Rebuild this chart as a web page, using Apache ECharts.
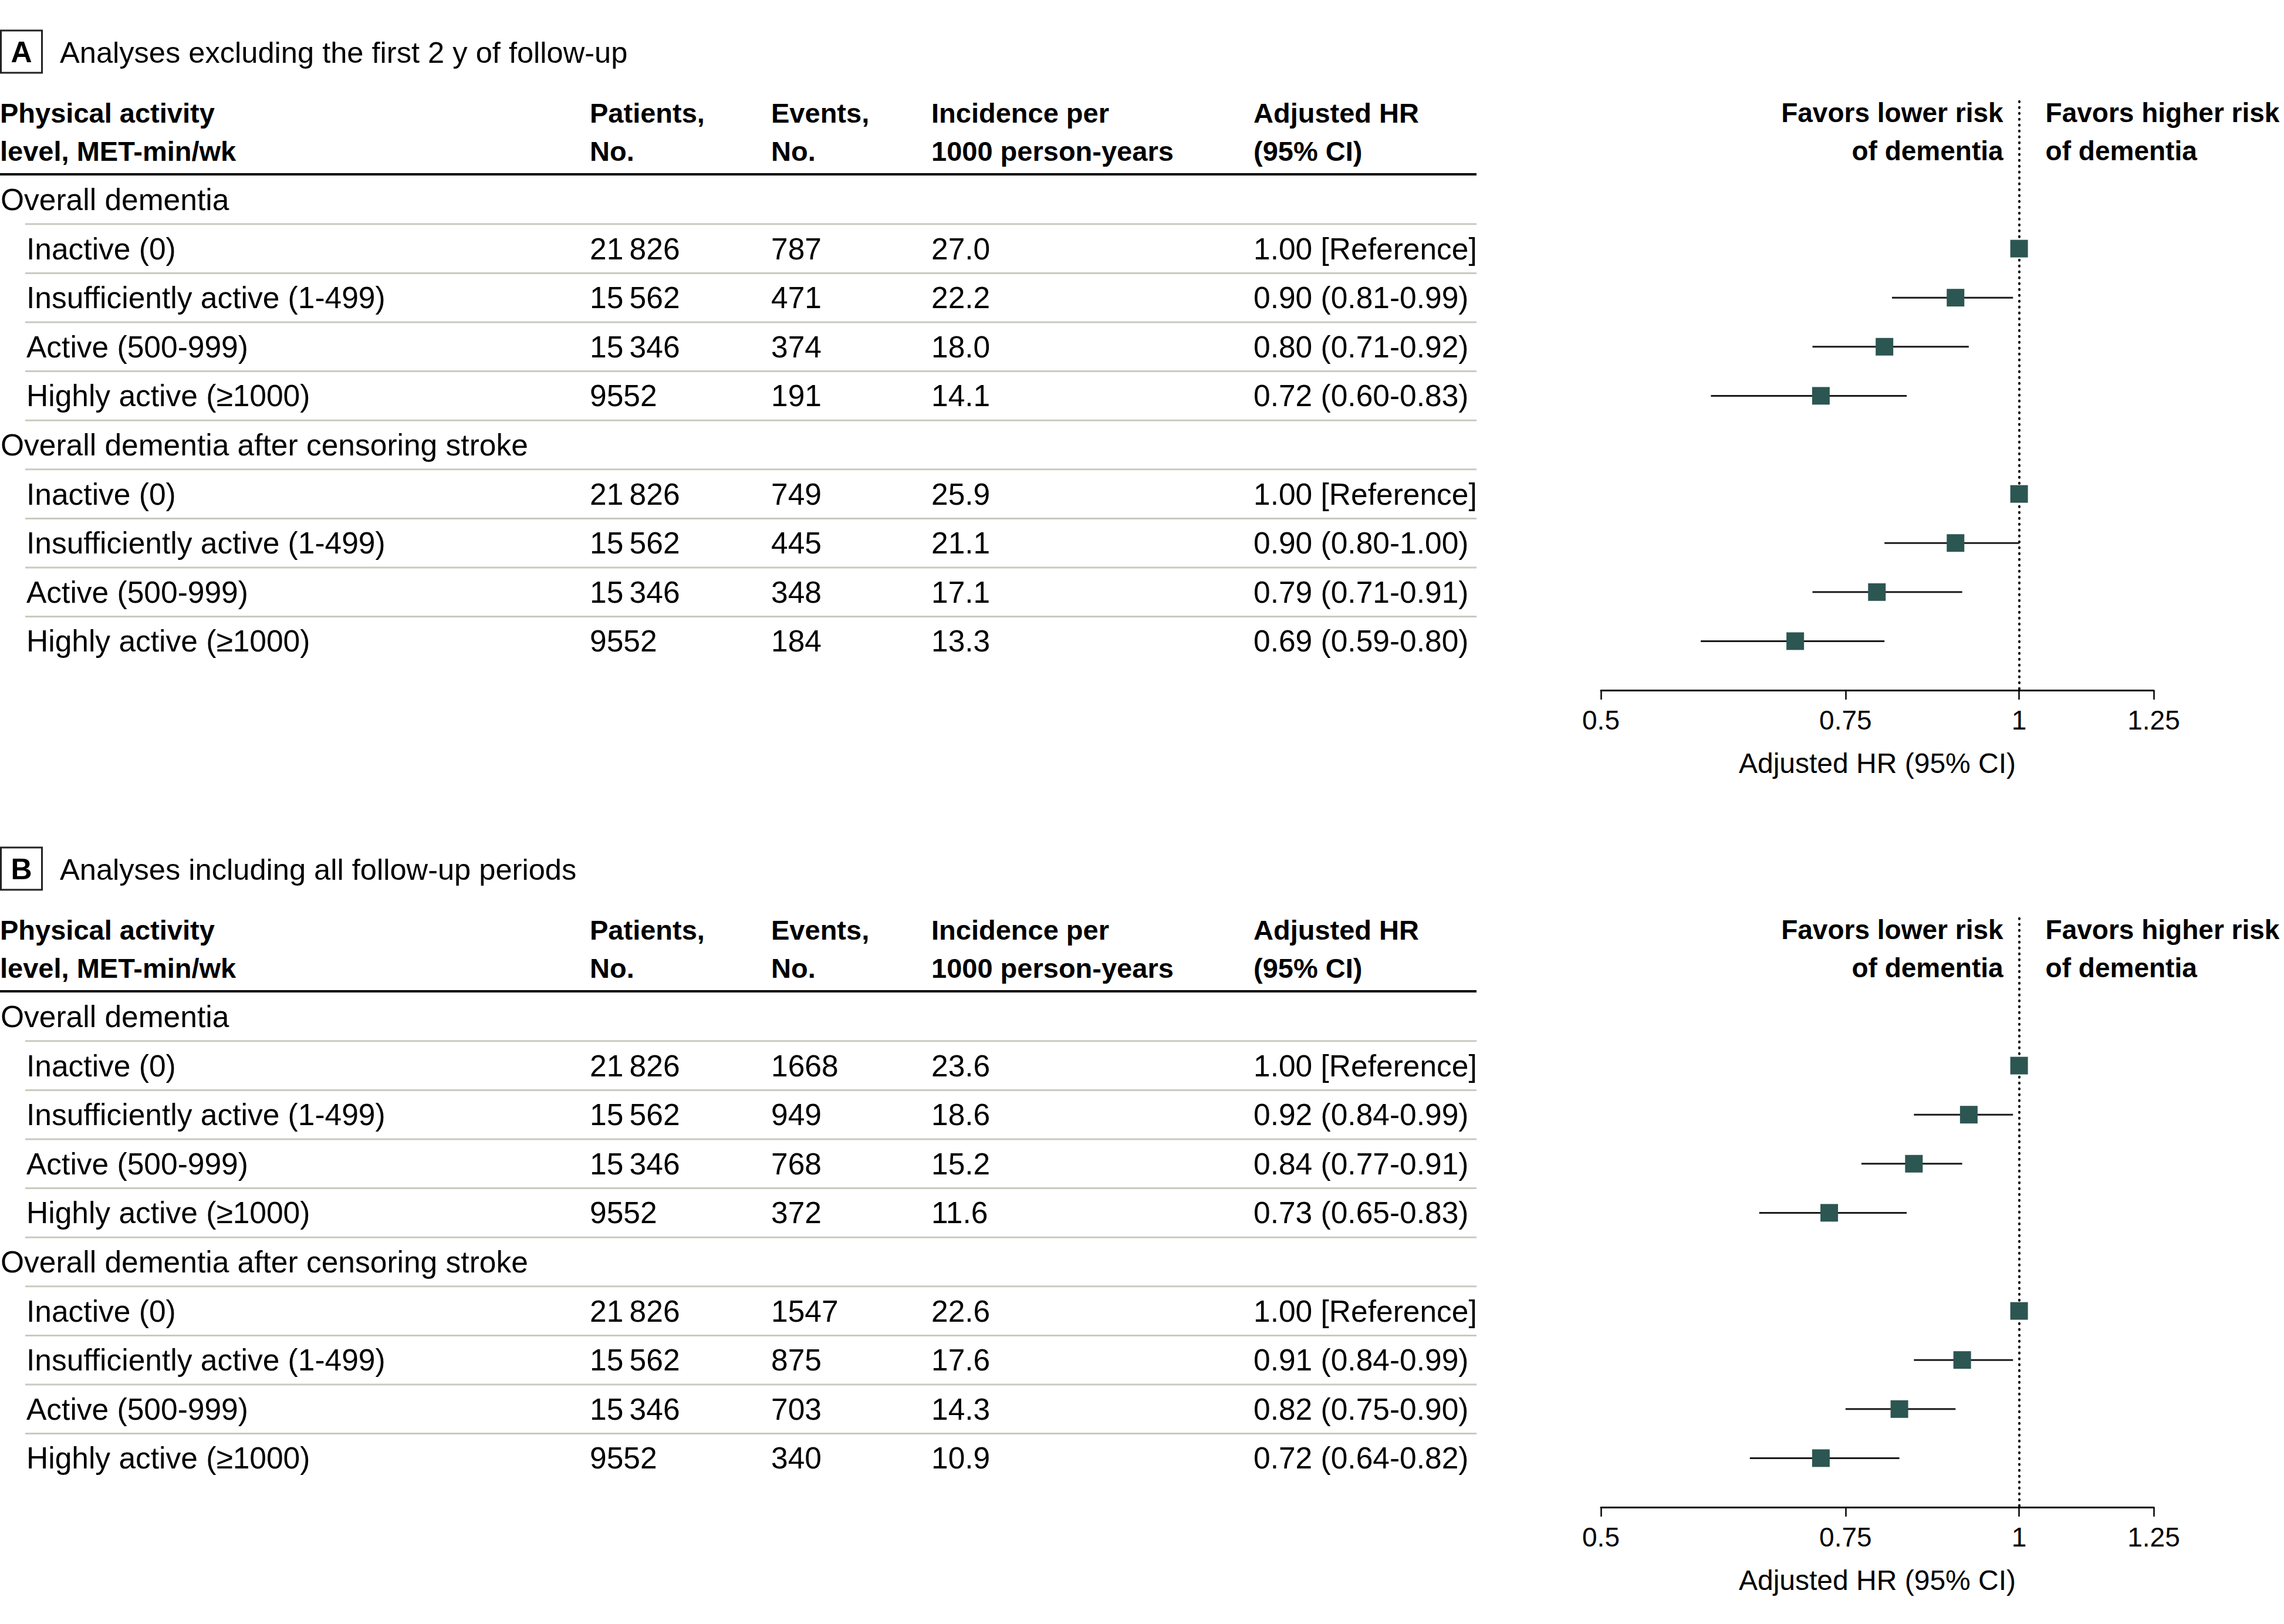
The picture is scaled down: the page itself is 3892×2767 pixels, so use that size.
<!DOCTYPE html>
<html>
<head>
<meta charset="utf-8">
<script src="https://cdn.jsdelivr.net/npm/echarts@6/dist/echarts.min.js"></script>
<style>
html,body{margin:0;padding:0;background:#fff;}
#chart{width:3892px;height:2767px;}
</style>
</head>
<body>
<div id="chart"></div>
<script>
// ---------------- DATA ----------------
const panelLetters = ['A', 'B'];
const panelTitles = ['Analyses excluding the first 2 y of follow-up', 'Analyses including all follow-up periods'];
const groupNames = ['Overall dementia', 'Overall dementia after censoring stroke'];
const levelNames = ['Inactive (0)', 'Insufficiently active (1-499)', 'Active (500-999)', 'Highly active (\u22651000)'];
const headerLines = [
  ['Physical activity', 'level, MET-min/wk'],
  ['Patients,', 'No.'],
  ['Events,', 'No.'],
  ['Incidence per', '1000 person-years'],
  ['Adjusted HR', '(95% CI)']
];
const favorsLower = ['Favors lower risk', 'of dementia'];
const favorsHigher = ['Favors higher risk', 'of dementia'];
const axisTitle = 'Adjusted HR (95% CI)';
const hrTicks = [0.5, 0.75, 1, 1.25];

// Panel A (excluding first 2 y)
const patientsA = [21826, 15562, 15346, 9552, 21826, 15562, 15346, 9552];
const eventsA = [787, 471, 374, 191, 749, 445, 348, 184];
const incidenceA = [27.0, 22.2, 18.0, 14.1, 25.9, 21.1, 17.1, 13.3];
const hrA = [1.00, 0.90, 0.80, 0.72, 1.00, 0.90, 0.79, 0.69];
const hrLowA = [null, 0.81, 0.71, 0.60, null, 0.80, 0.71, 0.59];
const hrHighA = [null, 0.99, 0.92, 0.83, null, 1.00, 0.91, 0.80];

// Panel B (all follow-up)
const patientsB = [21826, 15562, 15346, 9552, 21826, 15562, 15346, 9552];
const eventsB = [1668, 949, 768, 372, 1547, 875, 703, 340];
const incidenceB = [23.6, 18.6, 15.2, 11.6, 22.6, 17.6, 14.3, 10.9];
const hrB = [1.00, 0.92, 0.84, 0.73, 1.00, 0.91, 0.82, 0.72];
const hrLowB = [null, 0.84, 0.77, 0.65, null, 0.84, 0.75, 0.64];
const hrHighB = [null, 0.99, 0.91, 0.83, null, 0.99, 0.90, 0.82];

// ---------------- LAYOUT ----------------
const FONT = '"Liberation Sans", Arial, sans-serif';
const TXT = '#000';
const MARK = '#2c5652';
const ROW_H = 83.6;
const ROW0 = 340;
const PANEL_DY = 1392;
const GRID_LEFT = 2728, GRID_W = 942;
const COLS = [0, 1005, 1314, 1587, 2136];
const LABEL_X = 45;
const RULE_END = 2516;
const BODY = 51.5, HEAD = 47, FAV = 46;

const panels = [
  {patients: patientsA, events: eventsA, inc: incidenceA, hr: hrA, lo: hrLowA, hi: hrHighA},
  {patients: patientsB, events: eventsB, inc: incidenceB, hr: hrB, lo: hrLowB, hi: hrHighB}
];

function rowOf(k) { return k < 4 ? k + 1 : k + 2; }
function fmtInt(n) {
  const s = String(n);
  return n >= 10000 ? s.slice(0, s.length - 3) + '\u2009' + s.slice(s.length - 3) : s;
}
function fmtHR(k, P) {
  if (P.lo[k] == null) return P.hr[k].toFixed(2) + ' [Reference]';
  return P.hr[k].toFixed(2) + ' (' + P.lo[k].toFixed(2) + '-' + P.hi[k].toFixed(2) + ')';
}

function txt(x, y, text, size, weight, align) {
  return {type: 'text', x: x, y: y, silent: true,
    style: {text: text, fontSize: size, fontFamily: FONT, fontWeight: weight || 'normal',
      fill: TXT, align: align || 'left', verticalAlign: 'middle'}};
}
function hline(x1, x2, y, w, color) {
  return {type: 'line', silent: true, shape: {x1: x1, y1: y, x2: x2, y2: y},
    style: {stroke: color, lineWidth: w}};
}

const grids = [], xAxes = [], yAxes = [], series = [], graphics = [];
const xOne = GRID_LEFT + GRID_W * Math.log(1 / 0.5) / Math.log(1.25 / 0.5);

panels.forEach(function (P, p) {
  const dy = p * PANEL_DY;
  const rowY = function (r) { return ROW0 + dy + r * ROW_H; };
  grids.push({left: GRID_LEFT, width: GRID_W, top: ROW0 + dy - 2 * ROW_H, height: 12 * ROW_H, containLabel: false});
  xAxes.push({
    gridIndex: p, type: 'log', logBase: 10, min: 0.5, max: 1.25, position: 'bottom',
    name: axisTitle, nameLocation: 'middle', nameGap: 100,
    nameTextStyle: {fontSize: 48, fontFamily: FONT, color: TXT},
    axisLine: {show: true, onZero: false, lineStyle: {color: '#000', width: 3}},
    axisTick: {show: true, length: 16, lineStyle: {color: '#000', width: 2.5}, customValues: hrTicks},
    axisLabel: {show: true, fontSize: 46, fontFamily: FONT, color: TXT, margin: 28, customValues: hrTicks,
      formatter: function (v) { return String(+(+v).toFixed(2)); }},
    splitLine: {show: false}, minorTick: {show: false}, minorSplitLine: {show: false}
  });
  yAxes.push({gridIndex: p, type: 'value', inverse: true, min: -2, max: 10, show: false});

  const ciData = [], ptData = [];
  P.hr.forEach(function (v, k) {
    ptData.push([v, rowOf(k)]);
    if (P.lo[k] != null) ciData.push([P.lo[k], P.hi[k], rowOf(k)]);
  });
  series.push({
    type: 'custom', xAxisIndex: p, yAxisIndex: p, silent: true, z: 2,
    encode: {x: [0, 1], y: 2},
    data: ciData,
    renderItem: function (params, api) {
      const a = api.coord([api.value(0), api.value(2)]);
      const b = api.coord([api.value(1), api.value(2)]);
      return {type: 'line', shape: {x1: a[0], y1: a[1], x2: b[0], y2: b[1]},
        style: {stroke: '#1a1a1a', lineWidth: 3}};
    }
  });
  series.push({
    type: 'scatter', xAxisIndex: p, yAxisIndex: p, silent: true, z: 3,
    symbol: 'rect', symbolSize: 30,
    itemStyle: {color: MARK, opacity: 1},
    data: ptData,
    markLine: {
      silent: true, symbol: 'none', label: {show: false}, z: 1,
      lineStyle: {color: '#000', width: 4, type: [1, 9], cap: 'round'},
      data: [{xAxis: 1}]
    }
  });

  // Title with boxed letter
  graphics.push({type: 'rect', silent: true, shape: {x: 1.5, y: 52 + dy, width: 70, height: 72},
    style: {fill: 'none', stroke: '#222', lineWidth: 3}});
  graphics.push(txt(36.5, 89 + dy, panelLetters[p], 50, 'bold', 'center'));
  graphics.push(txt(102, 89 + dy, panelTitles[p], 50.6));

  // Header
  headerLines.forEach(function (h, c) {
    graphics.push(txt(COLS[c], 192 + dy, h[0], HEAD, 'bold'));
    graphics.push(txt(COLS[c], 257 + dy, h[1], HEAD, 'bold'));
  });
  graphics.push(hline(0, RULE_END, 297 + dy, 4, '#000'));

  // Favors annotations
  graphics.push(txt(xOne - 27, 192 + dy, favorsLower[0], FAV, 'bold', 'right'));
  graphics.push(txt(xOne - 27, 257 + dy, favorsLower[1], FAV, 'bold', 'right'));
  graphics.push(txt(xOne + 45, 192 + dy, favorsHigher[0], FAV, 'bold', 'left'));
  graphics.push(txt(xOne + 45, 257 + dy, favorsHigher[1], FAV, 'bold', 'left'));

  // Rows
  groupNames.forEach(function (g, gi) {
    graphics.push(txt(1, rowY(gi * 5), g, BODY));
  });
  P.hr.forEach(function (v, k) {
    const y = rowY(rowOf(k));
    graphics.push(txt(LABEL_X, y, levelNames[k % 4], BODY));
    graphics.push(txt(COLS[1], y, fmtInt(P.patients[k]), BODY));
    graphics.push(txt(COLS[2], y, String(P.events[k]), BODY));
    graphics.push(txt(COLS[3], y, P.inc[k].toFixed(1), BODY));
    graphics.push(txt(COLS[4], y, fmtHR(k, P), BODY));
  });
  for (let r = 0; r < 9; r++) {
    graphics.push(hline(43, RULE_END, rowY(r) + ROW_H / 2, 3, '#cacabe'));
  }
});

const chart = echarts.init(document.getElementById('chart'), null, {renderer: 'svg', width: 3892, height: 2767});
chart.setOption({
  backgroundColor: '#fff',
  animation: false,
  grid: grids,
  xAxis: xAxes,
  yAxis: yAxes,
  series: series,
  graphic: graphics
});
</script>
</body>
</html>
